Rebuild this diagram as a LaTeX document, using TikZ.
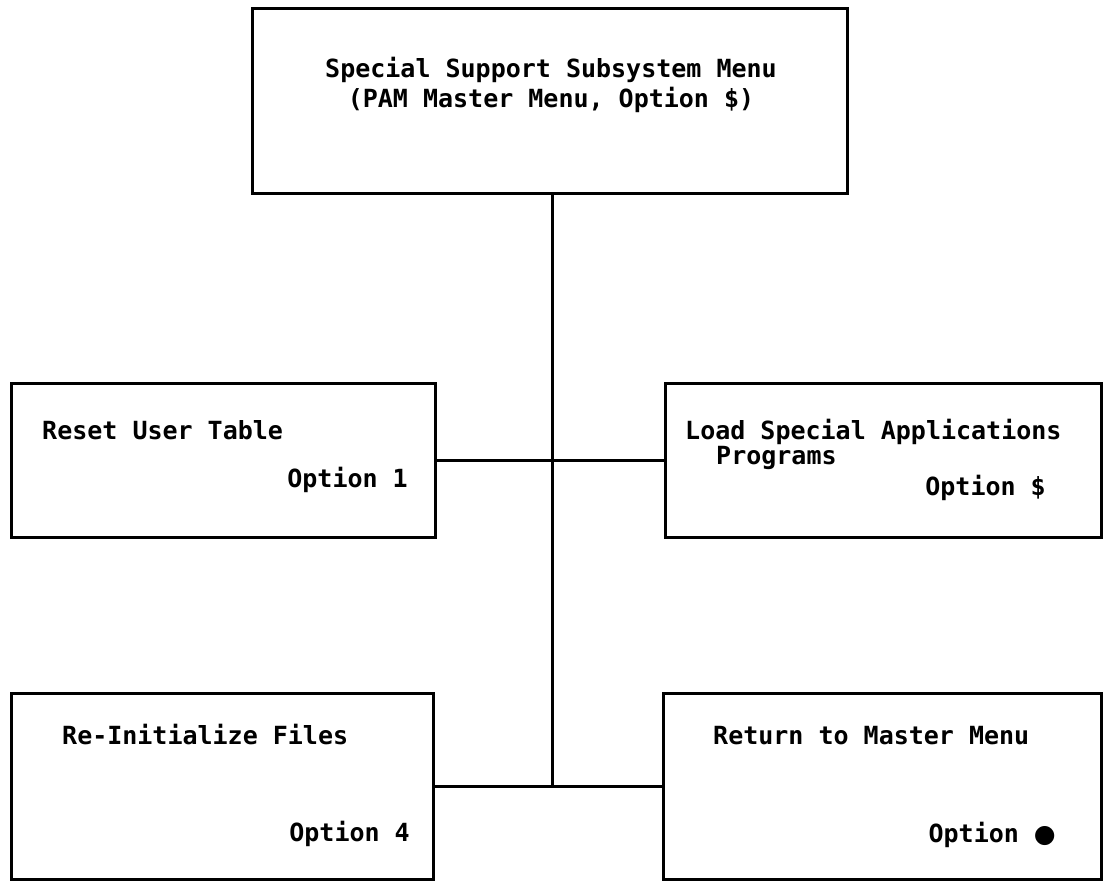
\documentclass[tikz,border=0pt]{standalone}
\usepackage{fontspec}
\setmonofont{DejaVu Sans Mono}
\newfontfamily\symfont{DejaVu Sans}
\begin{document}
\begin{tikzpicture}[x=1pt,y=-1pt,
  menubox/.style={draw, line width=3pt, rectangle, inner sep=0pt},
  lbl/.style={inner sep=0pt, font=\ttfamily\bfseries\fontsize{25}{30}\selectfont},
  link/.style={line width=3pt}]
  \useasboundingbox (0,0) rectangle (1104,881);

  % menu boxes
  \node[menubox, minimum width=595pt, minimum height=185pt] (top) at (549.5,100.5) {};
  \node[menubox, minimum width=424pt, minimum height=154pt] (ml) at (223,460) {};
  \node[menubox, minimum width=436pt, minimum height=154pt] (mr) at (883,460) {};
  \node[menubox, minimum width=422pt, minimum height=186pt] (bl) at (222,786) {};
  \node[menubox, minimum width=438pt, minimum height=186pt] (br) at (882,786) {};

  % box texts
  \node[lbl, align=center] (tt) at (551,85) {Special Support Subsystem Menu\\(PAM Master Menu, Option \$)};
  \node[lbl, anchor=west] (t1) at (42,430) {Reset User Table};
  \node[lbl, anchor=east] (o1) at (408,480) {Option 1};
  \node[lbl, anchor=west] (t2) at (685,432) {Load Special Applications};
  \node[lbl, anchor=west] (t2b) at (716,458) {Programs};
  \node[lbl, anchor=east] (o2) at (1046,488) {Option \$};
  \node[lbl, anchor=west] (t3) at (62,735) {Re-Initialize Files};
  \node[lbl, anchor=east] (o3) at (410,834) {Option 4};
  \node[lbl, anchor=west] (t4) at (713,736) {Return to Master Menu};
  \node[lbl, anchor=east] (o4) at (1056,835) {Option {\symfont ●}};

  % connectors
  \coordinate (stem) at (552,193);
  \coordinate (j2) at (552,786);
  \draw[link] (stem) -- (j2);
  \draw[link] (ml.east) -- (mr.west);
  \draw[link] (bl.east) -- (br.west);
\end{tikzpicture}
\end{document}
